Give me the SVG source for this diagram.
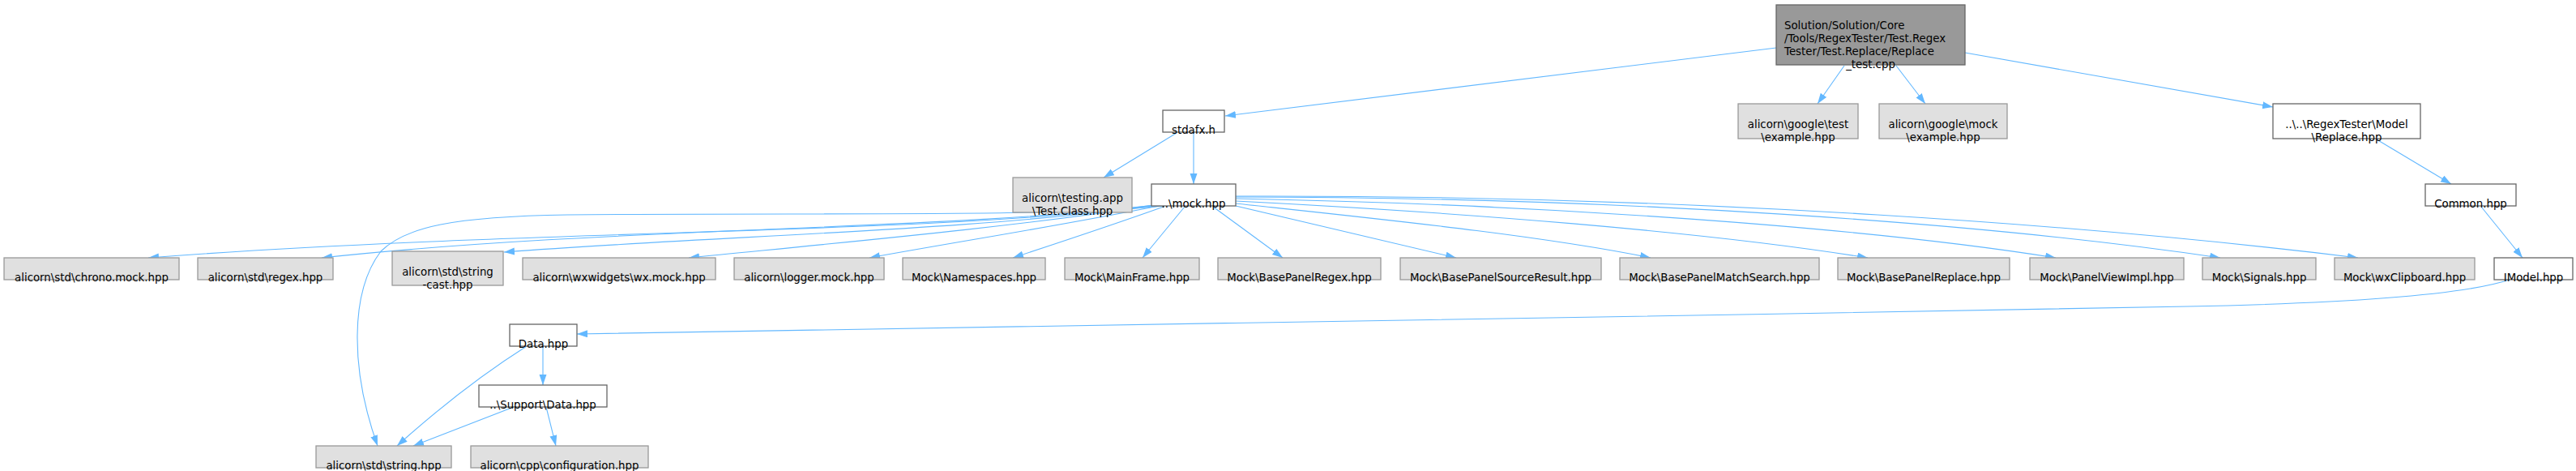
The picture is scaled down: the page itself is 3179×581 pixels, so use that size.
<svg xmlns="http://www.w3.org/2000/svg" width="3179" height="581" viewBox="0 0 3179 581">
<style>
.n rect{stroke-width:1.3}
.w rect{fill:#ffffff;stroke:#666666}
.g rect{fill:#e0e0e0;stroke:#999999}
.m rect{fill:#999999;stroke:#666666}
text{font-family:"DejaVu Sans","Liberation Sans",sans-serif;font-size:13.33px;fill:#000000;text-anchor:middle}
.e path{fill:none;stroke:#63b8ff;stroke-width:1.1}
</style>
<defs>
<marker id="ah" markerUnits="userSpaceOnUse" markerWidth="14" markerHeight="10" refX="13" refY="4.5" orient="auto">
<path d="M0,0 L13,4.5 L0,9 z" fill="#63b8ff"/>
</marker>
</defs>
<rect width="3179" height="581" fill="#ffffff"/>
<g class="e" marker-end="url(#ah)">
<path marker-end="url(#ah)" d="M2192,59 L1512,143"/>
<path marker-end="url(#ah)" d="M2276,81 L2243,128"/>
<path marker-end="url(#ah)" d="M2340,81 L2376,128"/>
<path marker-end="url(#ah)" d="M2425,65 L2805,132"/>
<path marker-end="url(#ah)" d="M1452,164 L1362,219"/>
<path marker-end="url(#ah)" d="M1473,164 L1473,227"/>
<path marker-end="url(#ah)" d="M2933,172 L3025,227"/>
<path marker-end="url(#ah)" d="M3062,255 L3113,318"/>
<path marker-end="url(#ah)" d="M3097,345 C3040,364 2900,374 2700,378 C2000,391 1200,405 712,412"/>
<path marker-end="url(#ah)" d="M670,427 L670,475"/>
<path marker-end="url(#ah)" d="M650,427 C590,465 540,505 490,550"/>
<path marker-end="url(#ah)" d="M634,502 L510,550"/>
<path marker-end="url(#ah)" d="M674,502 L686,550"/>
<path marker-end="url(#ah)" d="M1436,254 C1300,268 1000,262 700,265 C560,267 500,280 470,310 C432,360 432,455 466,550"/>
<path marker-end="url(#ah)" d="M1424,253 C1150,290 650,282 183,318"/>
<path marker-end="url(#ah)" d="M1425,253 C1150,285 750,280 397,318"/>
<path marker-end="url(#ah)" d="M1427,253 C1200,285 900,290 622,311"/>
<path marker-end="url(#ah)" d="M1428,253 C1250,280 1050,298 850,318"/>
<path marker-end="url(#ah)" d="M1430,254 C1300,280 1200,295 1073,318"/>
<path marker-end="url(#ah)" d="M1436,255 C1380,275 1320,295 1250,318"/>
<path marker-end="url(#ah)" d="M1462,255 L1410,318"/>
<path marker-end="url(#ah)" d="M1497,255 L1583,318"/>
<path marker-end="url(#ah)" d="M1525,254 L1797,318"/>
<path marker-end="url(#ah)" d="M1525,251 C1700,270 1900,290 2037,318"/>
<path marker-end="url(#ah)" d="M1525,248 C1800,262 2100,285 2305,318"/>
<path marker-end="url(#ah)" d="M1525,245 C1900,252 2300,280 2537,318"/>
<path marker-end="url(#ah)" d="M1525,243 C2000,243 2450,275 2740,318"/>
<path marker-end="url(#ah)" d="M1525,242 C2100,240 2600,280 2910,318"/>
</g>
<g id="node_main" class="n m"><rect x="2192" y="6" width="233" height="74"/>
<text x="2202" y="36" style="text-anchor:start">Solution/Solution/Core</text>
<text x="2202" y="52" style="text-anchor:start">/Tools/RegexTester/Test.Regex</text>
<text x="2202" y="68" style="text-anchor:start">Tester/Test.Replace/Replace</text>
<text x="2308.5" y="84">_test.cpp</text></g>
<g id="node_stdafx" class="n w"><rect x="1435" y="136" width="76" height="27"/><text x="1473" y="165">stdafx.h</text></g>
<g id="node_gtest" class="n g"><rect x="2145" y="128" width="148" height="43"/><text x="2219" y="158">alicorn\google\test</text><text x="2219" y="174">\example.hpp</text></g>
<g id="node_gmock" class="n g"><rect x="2319" y="128" width="158" height="43"/><text x="2398" y="158">alicorn\google\mock</text><text x="2398" y="174">\example.hpp</text></g>
<g id="node_replace" class="n w"><rect x="2805" y="128" width="182" height="43"/><text x="2896" y="158">..\..\RegexTester\Model</text><text x="2896" y="174">\Replace.hpp</text></g>
<g id="node_testing" class="n g"><rect x="1250" y="219" width="147" height="43"/><text x="1323.5" y="249">alicorn\testing.app</text><text x="1323.5" y="265">\Test.Class.hpp</text></g>
<g id="node_mock" class="n w"><rect x="1421" y="227" width="104" height="27"/><text x="1473" y="256">..\mock.hpp</text></g>
<g id="node_common" class="n w"><rect x="2993" y="227" width="112" height="27"/><text x="3049" y="256">Common.hpp</text></g>
<g id="node_chrono" class="n g"><rect x="5" y="318" width="216" height="27"/><text x="113" y="347">alicorn\std\chrono.mock.hpp</text></g>
<g id="node_regex" class="n g"><rect x="244" y="318" width="167" height="27"/><text x="327.5" y="347">alicorn\std\regex.hpp</text></g>
<g id="node_stringcast" class="n g"><rect x="484" y="310" width="137" height="42"/><text x="552.5" y="340">alicorn\std\string</text><text x="552.5" y="356">-cast.hpp</text></g>
<g id="node_wxmock" class="n g"><rect x="645" y="318" width="238" height="27"/><text x="764" y="347">alicorn\wxwidgets\wx.mock.hpp</text></g>
<g id="node_logger" class="n g"><rect x="906" y="318" width="185" height="27"/><text x="998.5" y="347">alicorn\logger.mock.hpp</text></g>
<g id="node_namespaces" class="n g"><rect x="1114" y="318" width="176" height="27"/><text x="1202" y="347">Mock\Namespaces.hpp</text></g>
<g id="node_mainframe" class="n g"><rect x="1314" y="318" width="166" height="27"/><text x="1397" y="347">Mock\MainFrame.hpp</text></g>
<g id="node_bpregex" class="n g"><rect x="1503" y="318" width="201" height="27"/><text x="1603.5" y="347">Mock\BasePanelRegex.hpp</text></g>
<g id="node_bpsource" class="n g"><rect x="1728" y="318" width="248" height="27"/><text x="1852" y="347">Mock\BasePanelSourceResult.hpp</text></g>
<g id="node_bpmatch" class="n g"><rect x="1999" y="318" width="246" height="27"/><text x="2122" y="347">Mock\BasePanelMatchSearch.hpp</text></g>
<g id="node_bpreplace" class="n g"><rect x="2268" y="318" width="212" height="27"/><text x="2374" y="347">Mock\BasePanelReplace.hpp</text></g>
<g id="node_panelview" class="n g"><rect x="2505" y="318" width="190" height="27"/><text x="2600" y="347">Mock\PanelViewImpl.hpp</text></g>
<g id="node_signals" class="n g"><rect x="2718" y="318" width="140" height="27"/><text x="2788" y="347">Mock\Signals.hpp</text></g>
<g id="node_clipboard" class="n g"><rect x="2881" y="318" width="173" height="27"/><text x="2967.5" y="347">Mock\wxClipboard.hpp</text></g>
<g id="node_imodel" class="n w"><rect x="3078" y="318" width="97" height="27"/><text x="3126.5" y="347">IModel.hpp</text></g>
<g id="node_data" class="n w"><rect x="629" y="400" width="83" height="27"/><text x="670.5" y="429">Data.hpp</text></g>
<g id="node_supportdata" class="n w"><rect x="591" y="475" width="158" height="27"/><text x="670" y="504">..\Support\Data.hpp</text></g>
<g id="node_string" class="n g"><rect x="390" y="550" width="167" height="27"/><text x="473.5" y="579">alicorn\std\string.hpp</text></g>
<g id="node_config" class="n g"><rect x="581" y="550" width="219" height="27"/><text x="690.5" y="579">alicorn\cpp\configuration.hpp</text></g>
</svg>
